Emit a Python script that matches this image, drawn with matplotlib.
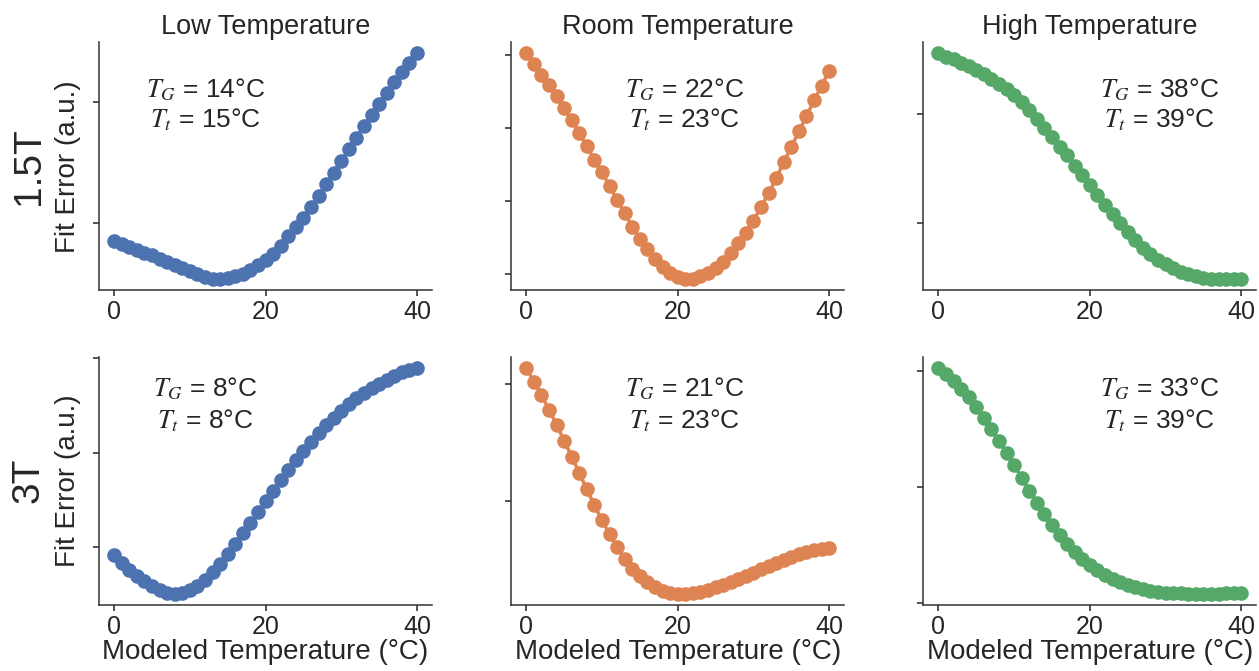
import matplotlib
matplotlib.use('Agg')
import matplotlib.pyplot as plt
import seaborn as sns
import numpy as np

# modeled temperatures (°C)
temps = np.arange(0, 41)

# fit error (a.u.)
low_15 = [0.858, 0.830, 0.803, 0.781, 0.759, 0.737, 0.710, 0.685, 0.658, 0.633,
          0.605, 0.581, 0.556, 0.542, 0.540, 0.548, 0.562, 0.584, 0.616, 0.655,
          0.699, 0.748, 0.816, 0.893, 0.967, 1.049, 1.137, 1.227, 1.323, 1.419,
          1.515, 1.611, 1.707, 1.803, 1.899, 1.986, 2.077, 2.167, 2.249, 2.323, 2.405]
room_15 = [4.018, 3.873, 3.727, 3.582, 3.427, 3.264, 3.100, 2.927, 2.745, 2.564,
           2.391, 2.200, 2.014, 1.832, 1.645, 1.482, 1.336, 1.200, 1.091, 1.009,
           0.955, 0.927, 0.927, 0.964, 1.009, 1.073, 1.164, 1.282, 1.418, 1.564,
           1.727, 1.918, 2.100, 2.309, 2.527, 2.736, 2.950, 3.155, 3.373, 3.573, 3.782]
high_15 = [2.557, 2.526, 2.502, 2.471, 2.437, 2.404, 2.367, 2.324, 2.275, 2.226,
           2.174, 2.110, 2.037, 1.951, 1.872, 1.786, 1.700, 1.621, 1.526, 1.437,
           1.346, 1.260, 1.168, 1.083, 0.997, 0.917, 0.844, 0.771, 0.716, 0.661,
           0.618, 0.581, 0.550, 0.526, 0.508, 0.495, 0.486, 0.483, 0.483, 0.486, 0.489]
low_3 = [0.916, 0.835, 0.761, 0.698, 0.642, 0.593, 0.551, 0.519, 0.509, 0.516,
         0.544, 0.589, 0.649, 0.733, 0.825, 0.930, 1.035, 1.147, 1.253, 1.368,
         1.484, 1.596, 1.709, 1.818, 1.923, 2.021, 2.112, 2.207, 2.288, 2.365,
         2.439, 2.509, 2.572, 2.625, 2.677, 2.726, 2.768, 2.807, 2.846, 2.874, 2.895]
room_3 = [2.139, 2.020, 1.907, 1.782, 1.652, 1.516, 1.380, 1.241, 1.099, 0.963,
          0.836, 0.717, 0.609, 0.507, 0.422, 0.354, 0.303, 0.263, 0.232, 0.215,
          0.207, 0.207, 0.212, 0.224, 0.241, 0.261, 0.283, 0.306, 0.331, 0.357,
          0.385, 0.414, 0.442, 0.470, 0.496, 0.521, 0.544, 0.564, 0.581, 0.592, 0.601]
high_3 = [2.026, 1.977, 1.914, 1.846, 1.771, 1.689, 1.597, 1.500, 1.397, 1.291,
          1.186, 1.077, 0.966, 0.863, 0.769, 0.671, 0.589, 0.511, 0.443, 0.380,
          0.326, 0.283, 0.243, 0.209, 0.180, 0.154, 0.134, 0.117, 0.106, 0.094,
          0.089, 0.083, 0.083, 0.080, 0.080, 0.080, 0.080, 0.080, 0.083, 0.086, 0.089]

col_titles = ['Low Temperature', 'Room Temperature', 'High Temperature']
row_labels = ['1.5T', '3T']
t_g = [[14, 22, 38], [8, 21, 33]]
t_t = [[15, 23, 39], [8, 23, 39]]
yticks = [[[1, 2], [1, 2, 3, 4], [1, 2]],
          [[1, 2, 3], [1, 2], [0, 1, 2]]]
series = [[low_15, room_15, high_15], [low_3, room_3, high_3]]

sns.set_style('ticks')
plt.rcParams['font.family'] = ['Liberation Sans', 'DejaVu Sans']
plt.rcParams['mathtext.fontset'] = 'stix'
colors = sns.color_palette('deep')[:3]

fig, axes = plt.subplots(2, 3, figsize=(12.59, 6.71), dpi=100)
fig.subplots_adjust(left=0.0786, right=0.998, top=0.9374, bottom=0.0984,
                    wspace=0.237, hspace=0.266)

# annotation placement (axes fraction)
text_x = [0.32, 0.52, 0.71]
text_y = [(0.777, 0.656), (0.84, 0.712)]

for r in range(2):
    for c in range(3):
        ax = axes[r, c]
        ax.plot(temps, series[r][c], '-o', color=colors[c], lw=2.5, ms=9.5)
        ax.set_xticks([0, 20, 40])
        ax.set_yticks(yticks[r][c])
        ax.set_yticklabels([])
        ax.tick_params(labelsize=18, length=4, width=1.1, colors='.15', pad=3)
        for s in ax.spines.values():
            s.set_linewidth(1.1)
            s.set_color('.2')
        sns.despine(ax=ax)
        ax.text(text_x[c], text_y[r][0], r'$T_G$ = %d°C' % t_g[r][c],
                transform=ax.transAxes, ha='center', va='baseline', fontsize=19)
        ax.text(text_x[c], text_y[r][1], r'$T_t$ = %d°C' % t_t[r][c],
                transform=ax.transAxes, ha='center', va='baseline', fontsize=19)
        if r == 0:
            ax.set_title(col_titles[c], fontsize=19.5, pad=6, color='.15')
        else:
            ax.set_xlabel('Modeled Temperature (°C)', fontsize=20, color='.15', labelpad=0)
        if c == 0:
            ax.set_ylabel('Fit Error (a.u.)', fontsize=20, color='.15', labelpad=6)
            ax.text(-0.21, 0.5, row_labels[r], transform=ax.transAxes, rotation=90,
                    ha='center', va='center', fontsize=28)

plt.savefig('out.png', dpi=100)
